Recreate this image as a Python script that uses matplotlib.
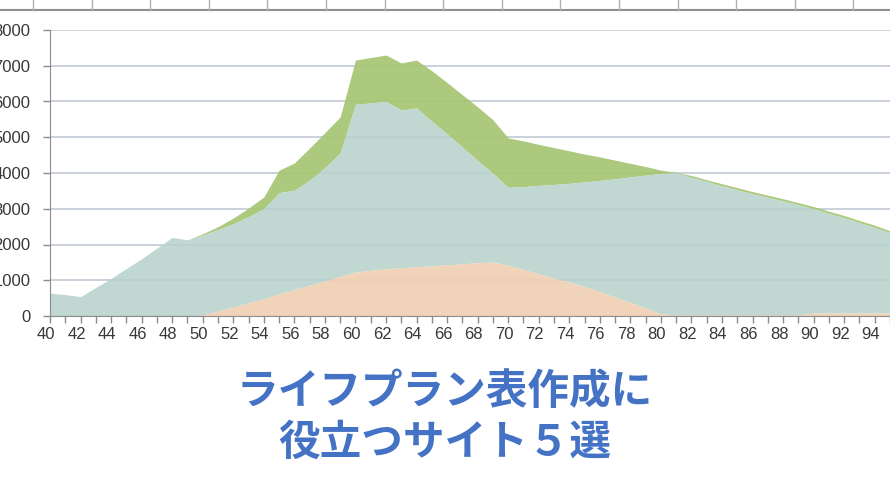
import numpy as np
import matplotlib.pyplot as plt
import matplotlib.transforms as mtransforms
from matplotlib.lines import Line2D

# 年齢 (40〜95歳)
ages = np.arange(40, 96)

# 各エリアの上端の値
orange_vals = [0, 0, 0, 0, 0, 0, 0, 0, 0, 0,
               30, 140, 250, 370, 480, 620, 740, 860, 980, 1110,
               1230, 1280, 1320, 1350, 1380, 1400, 1430, 1460, 1490, 1510,
               1420, 1300, 1180, 1060, 950, 820, 680, 530, 380, 220,
               60, 30, 30, 30, 30, 30, 30, 30, 30, 30,
               80, 80, 80, 80, 80, 80]
teal_vals = [640, 600, 540, 800, 1050, 1330, 1600, 1900, 2200, 2130,
             2260, 2420, 2580, 2780, 3000, 3450, 3520, 3800, 4150, 4560,
             5920, 5960, 6000, 5760, 5820, 5450, 5090, 4720, 4350, 3990,
             3600, 3620, 3650, 3680, 3710, 3750, 3790, 3840, 3890, 3940,
             3990, 4000, 3880, 3760, 3640, 3530, 3420, 3320, 3220, 3110,
             3000, 2870, 2750, 2610, 2480, 2330]
green_vals = [640, 600, 540, 800, 1050, 1330, 1600, 1900, 2200, 2130,
              2300, 2500, 2740, 3020, 3330, 4080, 4280, 4700, 5130, 5570,
              7160, 7230, 7300, 7080, 7160, 6860, 6530, 6190, 5850, 5490,
              4980, 4900, 4800, 4710, 4620, 4530, 4450, 4360, 4270, 4180,
              4080, 4020, 3930, 3810, 3700, 3590, 3480, 3380, 3280, 3170,
              3060, 2930, 2810, 2670, 2540, 2380]

y_ticks = np.arange(0, 8001, 1000)
x_labels = np.arange(40, 95, 2)

title_lines = ["ライフプラン表作成に", "役立つサイト５選"]

# 図の作成
fig = plt.figure(figsize=(8.9, 5.0), dpi=100)
ax = fig.add_axes([50 / 890, 1 - 316 / 500, 840 / 890, 286 / 500])

ax.fill_between(ages, teal_vals, green_vals, color="#a6c572", alpha=0.92, lw=0, zorder=2)
ax.fill_between(ages, orange_vals, teal_vals, color="#b9d3ce", alpha=0.9, lw=0, zorder=2)
ax.fill_between(ages, 0, orange_vals, color="#efd0b2", alpha=0.92, lw=0, zorder=2)

ax.set_xlim(40, 40 + 840 / 15.36)
ax.set_ylim(0, 8000)

# 軸の設定
ax.set_yticks(y_ticks)
ax.set_yticklabels([str(v) for v in y_ticks])
ax.set_xticks(x_labels)
ax.set_xticklabels([str(v) for v in x_labels])
ax.set_xticks(ages, minor=True)
ax.tick_params(axis="both", which="both", length=5, width=1, color="#8c8c8c",
               labelsize=12, labelcolor="#383838", direction="out")
ax.tick_params(axis="y", pad=9)
ax.tick_params(axis="x", pad=3)
for lab in ax.get_xticklabels() + ax.get_yticklabels():
    lab.set_fontfamily("Liberation Sans")
shift = mtransforms.ScaledTranslation(-4 / 100, 0, fig.dpi_scale_trans)
for lab in ax.get_xticklabels():
    lab.set_transform(lab.get_transform() + shift)

ax.set_axisbelow(True)
ax.yaxis.grid(True, color="#c6ced9", lw=1.3)
ax.spines["top"].set_visible(False)
ax.spines["right"].set_visible(False)
ax.spines["left"].set_color("#8c8c8c")
ax.spines["bottom"].set_color("#8c8c8c")

# 上部の枠線 (上の表の下端)
fig.add_artist(Line2D([0, 1], [1 - 9.5 / 500] * 2, transform=fig.transFigure,
                      color="#8f8f8f", lw=1.5))
for k in range(15):
    xx = (33 + 58.6 * k) / 890
    fig.add_artist(Line2D([xx, xx], [1 - 9.5 / 500, 1], transform=fig.transFigure,
                          color="#b0b0b0", lw=1))

# タイトル
jp_font = ["Noto Sans CJK JP", "DejaVu Sans"]
fig.text(0.5, 1 - 392 / 500, title_lines[0], ha="center", va="center", fontsize=30,
         fontweight="bold", color="#4472c4", family=jp_font)
fig.text(0.5, 1 - 443 / 500, title_lines[1], ha="center", va="center", fontsize=30,
         fontweight="bold", color="#4472c4", family=jp_font)

fig.savefig("out.png", dpi=100)
